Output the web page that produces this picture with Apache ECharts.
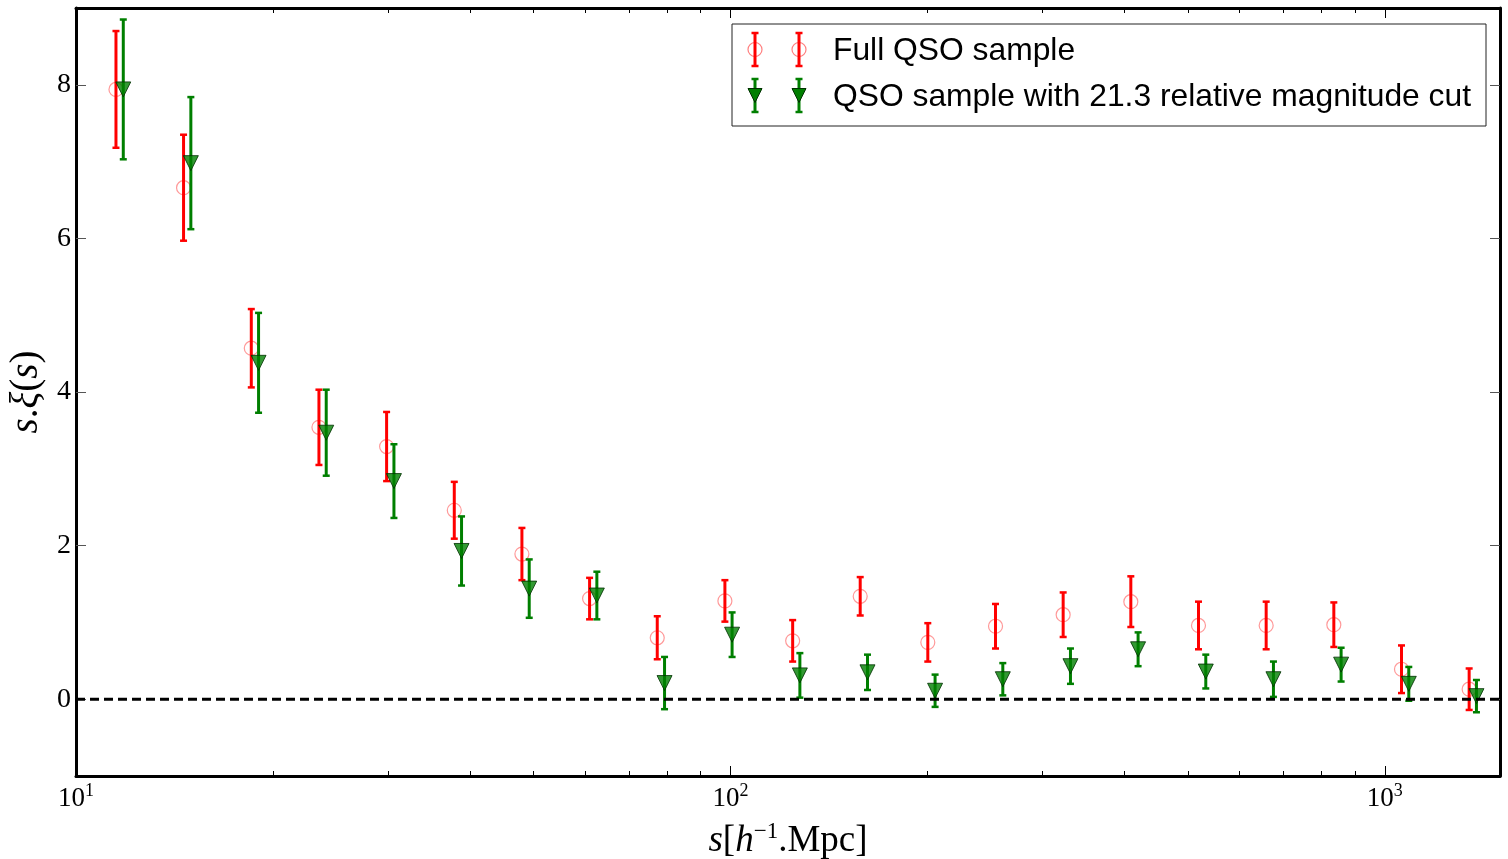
<!DOCTYPE html>
<html>
<head>
<meta charset="utf-8">
<script src="https://cdn.jsdelivr.net/npm/echarts@6/dist/echarts.min.js"></script>
<style>
  html, body { margin: 0; padding: 0; background: #ffffff; }
  #chart { width: 1508px; height: 859px; }
</style>
</head>
<body>
<div id="chart"></div>
<script>
// Separation bins s [h^-1 Mpc] and s*xi(s) with 1-sigma errors
const sFull   = [11.51, 14.60, 18.53, 23.51, 29.83, 37.85, 48.02, 60.93, 77.31, 98.09, 124.5,
                 157.9, 200.3, 254.2, 322.5, 409.2, 519.2, 658.8, 835.9, 1060.6, 1345.7];
const xiFull  = [7.94, 6.66, 4.57, 3.54, 3.29, 2.46, 1.89, 1.31, 0.80, 1.28, 0.76,
                 1.34, 0.74, 0.95, 1.10, 1.27, 0.96, 0.96, 0.97, 0.39, 0.13];
const errFull = [0.76, 0.69, 0.51, 0.49, 0.45, 0.37, 0.34, 0.27, 0.28, 0.27, 0.27,
                 0.25, 0.25, 0.29, 0.29, 0.33, 0.31, 0.31, 0.29, 0.31, 0.27];

const sCut    = [11.81, 14.98, 19.01, 24.12, 30.61, 38.83, 49.27, 62.51, 79.32, 100.6, 127.7,
                 162.0, 205.5, 260.8, 330.9, 419.8, 532.7, 675.9, 857.6, 1088.2, 1380.7];
const xiCut   = [7.94, 6.98, 4.38, 3.47, 2.84, 1.93, 1.44, 1.35, 0.21, 0.84, 0.31,
                 0.35, 0.11, 0.26, 0.43, 0.65, 0.36, 0.26, 0.45, 0.20, 0.04];
const errCut  = [0.91, 0.86, 0.65, 0.56, 0.48, 0.45, 0.38, 0.31, 0.34, 0.29, 0.29,
                 0.23, 0.21, 0.21, 0.23, 0.22, 0.22, 0.23, 0.22, 0.22, 0.21];

const yTicks  = [0, 2, 4, 6, 8];
const xMajor  = [10, 100, 1000];
const xMinor  = [20, 30, 40, 50, 60, 70, 80, 90, 200, 300, 400, 500, 600, 700, 800, 900];
const legendLabels = ['Full QSO sample', 'QSO sample with 21.3 relative magnitude cut'];

const RED = '#ff0000';
const GREEN = '#007f00';
const SERIF = '"Liberation Serif", "DejaVu Serif", serif';
const SANS = '"Liberation Sans", Arial, sans-serif';

const chart = echarts.init(document.getElementById('chart'), null, { renderer: 'canvas' });

function zip3(a, b, c) { return a.map((v, i) => [v, b[i], c[i]]); }

// vertical error bar with end caps
function errorBar(color) {
  return function (params, api) {
    const x = api.value(0), y = api.value(1), e = api.value(2);
    const top = api.coord([x, y + e]);
    const bot = api.coord([x, y - e]);
    const cap = 3.5;
    const st = { stroke: color, lineWidth: 3 };
    const cs = { stroke: color, lineWidth: 2.5 };
    return {
      type: 'group',
      children: [
        { type: 'line', shape: { x1: top[0], y1: top[1], x2: bot[0], y2: bot[1] }, style: st },
        { type: 'line', shape: { x1: top[0] - cap, y1: top[1], x2: top[0] + cap, y2: top[1] }, style: cs },
        { type: 'line', shape: { x1: bot[0] - cap, y1: bot[1], x2: bot[0] + cap, y2: bot[1] }, style: cs }
      ]
    };
  };
}

const xLogBase = { type: 'log', logBase: 10, min: 10, max: 1500, gridIndex: 0 };
const axisLineStyle = { show: true, onZero: false, lineStyle: { color: '#000', width: 3 } };

// legend drawn as a framed box with two error-bar samples per row
function legendGraphics() {
  const g = [];
  g.push({ type: 'rect', shape: { x: 732, y: 24, width: 754, height: 102 },
           style: { fill: '#fff', stroke: '#222', lineWidth: 1 }, z: 100 });
  const rows = [
    { y: 49.5, half: 16.5, color: RED, kind: 'circle' },
    { y: 95.5, half: 16.5, color: GREEN, kind: 'tri' }
  ];
  rows.forEach((r, ri) => {
    [755, 799].forEach(cx => {
      g.push({ type: 'line', shape: { x1: cx, y1: r.y - r.half, x2: cx, y2: r.y + r.half },
               style: { stroke: r.color, lineWidth: 3 }, z: 101 });
      g.push({ type: 'line', shape: { x1: cx - 3.5, y1: r.y - r.half, x2: cx + 3.5, y2: r.y - r.half },
               style: { stroke: r.color, lineWidth: 2.5 }, z: 101 });
      g.push({ type: 'line', shape: { x1: cx - 3.5, y1: r.y + r.half, x2: cx + 3.5, y2: r.y + r.half },
               style: { stroke: r.color, lineWidth: 2.5 }, z: 101 });
      if (r.kind === 'circle') {
        g.push({ type: 'circle', shape: { cx: cx, cy: r.y, r: 7 },
                 style: { fill: 'none', stroke: 'rgba(255,0,0,0.5)', lineWidth: 1.2 }, z: 102 });
      } else {
        g.push({ type: 'polygon', shape: { points: [[cx - 7, r.y - 7], [cx + 7, r.y - 7], [cx, r.y + 7]] },
                 style: { fill: GREEN, stroke: '#003000', lineWidth: 1 }, z: 102 });
      }
    });
    g.push({ type: 'text', x: 833, y: r.y + 1.5, z: 102,
             style: { text: legendLabels[ri], fill: '#000', font: '31.8px ' + SANS,
                      textVerticalAlign: 'middle', textAlign: 'left' } });
  });
  return g;
}

const option = {
  backgroundColor: '#ffffff',
  animation: false,
  grid: { left: 76, right: 8, top: 8, bottom: 83, containLabel: false, outerBoundsMode: 'none' },
  xAxis: [
    Object.assign({}, xLogBase, {
      position: 'bottom',
      axisLine: axisLineStyle,
      splitLine: { show: false },
      axisTick: { show: true, inside: true, length: 10, customValues: xMajor,
                  lineStyle: { color: '#000', width: 1 } },
      axisLabel: {
        show: true, customValues: xMajor, margin: 6,
        formatter: v => '{b|10}{s|' + Math.round(Math.log10(v)) + '}',
        rich: {
          b: { fontFamily: SERIF, fontSize: 27, color: '#000' },
          s: { fontFamily: SERIF, fontSize: 18, color: '#000', padding: [0, 0, 16, 0] }
        }
      },
      name: '{i|s}{r|[}{i|h}{sup|−1}{r|.Mpc]}',
      nameLocation: 'middle', nameGap: 44,
      nameTextStyle: {
        rich: {
          i: { fontFamily: SERIF, fontStyle: 'italic', fontSize: 37, color: '#000' },
          r: { fontFamily: SERIF, fontSize: 37, color: '#000' },
          sup: { fontFamily: SERIF, fontSize: 23, color: '#000', padding: [0, 0, 20, 0] }
        }
      }
    }),
    Object.assign({}, xLogBase, {
      position: 'bottom',
      axisLine: { show: false, onZero: false },
      splitLine: { show: false },
      axisTick: { show: true, inside: true, length: 5, customValues: xMinor,
                  lineStyle: { color: '#000', width: 1 } },
      axisLabel: { show: false }
    }),
    Object.assign({}, xLogBase, {
      position: 'top',
      axisLine: axisLineStyle,
      splitLine: { show: false },
      axisTick: { show: true, inside: true, length: 10, customValues: xMajor,
                  lineStyle: { color: '#000', width: 1 } },
      axisLabel: { show: false }
    }),
    Object.assign({}, xLogBase, {
      position: 'top',
      axisLine: { show: false, onZero: false },
      splitLine: { show: false },
      axisTick: { show: true, inside: true, length: 5, customValues: xMinor,
                  lineStyle: { color: '#000', width: 1 } },
      axisLabel: { show: false }
    })
  ],
  yAxis: [
    {
      type: 'value', min: -1, max: 9, position: 'left',
      axisLine: axisLineStyle,
      splitLine: { show: false },
      axisTick: { show: true, inside: true, length: 10, customValues: yTicks,
                  lineStyle: { color: '#555', width: 1 } },
      axisLabel: { show: true, customValues: yTicks, margin: 5,
                   fontFamily: SERIF, fontSize: 28, color: '#000' },
      name: '{i|s}{r|.}{i|ξ}{r|(}{i|s}{r|)}',
      nameLocation: 'middle', nameGap: 28, nameRotate: 90,
      nameTextStyle: {
        rich: {
          i: { fontFamily: SERIF, fontStyle: 'italic', fontSize: 39, color: '#000' },
          r: { fontFamily: SERIF, fontSize: 39, color: '#000' }
        }
      }
    },
    {
      type: 'value', min: -1, max: 9, position: 'right',
      axisLine: axisLineStyle,
      splitLine: { show: false },
      axisTick: { show: true, inside: true, length: 10, customValues: yTicks,
                  lineStyle: { color: '#555', width: 1 } },
      axisLabel: { show: false }
    }
  ],
  series: [
    {
      type: 'custom', name: legendLabels[0], xAxisIndex: 0, yAxisIndex: 0,
      renderItem: errorBar(RED), data: zip3(sFull, xiFull, errFull),
      encode: { x: 0, y: 1 }, z: 2, silent: true
    },
    {
      type: 'scatter', name: legendLabels[0] + ' marker', xAxisIndex: 0, yAxisIndex: 0,
      data: sFull.map((s, i) => [s, xiFull[i]]),
      symbol: 'circle', symbolSize: 14,
      itemStyle: { color: 'rgba(0,0,0,0)', borderColor: 'rgba(255,0,0,0.5)', borderWidth: 1.2 },
      z: 3, silent: true
    },
    {
      type: 'custom', name: legendLabels[1], xAxisIndex: 0, yAxisIndex: 0,
      renderItem: errorBar(GREEN), data: zip3(sCut, xiCut, errCut),
      encode: { x: 0, y: 1 }, z: 4, silent: true
    },
    {
      type: 'scatter', name: legendLabels[1] + ' marker', xAxisIndex: 0, yAxisIndex: 0,
      data: sCut.map((s, i) => [s, xiCut[i]]),
      symbol: 'triangle', symbolRotate: 180, symbolSize: 15,
      itemStyle: { color: GREEN, borderColor: '#003000', borderWidth: 1 },
      z: 5, silent: true
    },
    {
      type: 'line', name: 'zero', xAxisIndex: 0, yAxisIndex: 0,
      data: [[10, 0], [1500, 0]], symbol: 'none',
      lineStyle: { color: '#000', width: 3, type: [9, 5] },
      z: 6, silent: true
    }
  ],
  graphic: legendGraphics()
};

chart.setOption(option);
</script>
</body>
</html>
